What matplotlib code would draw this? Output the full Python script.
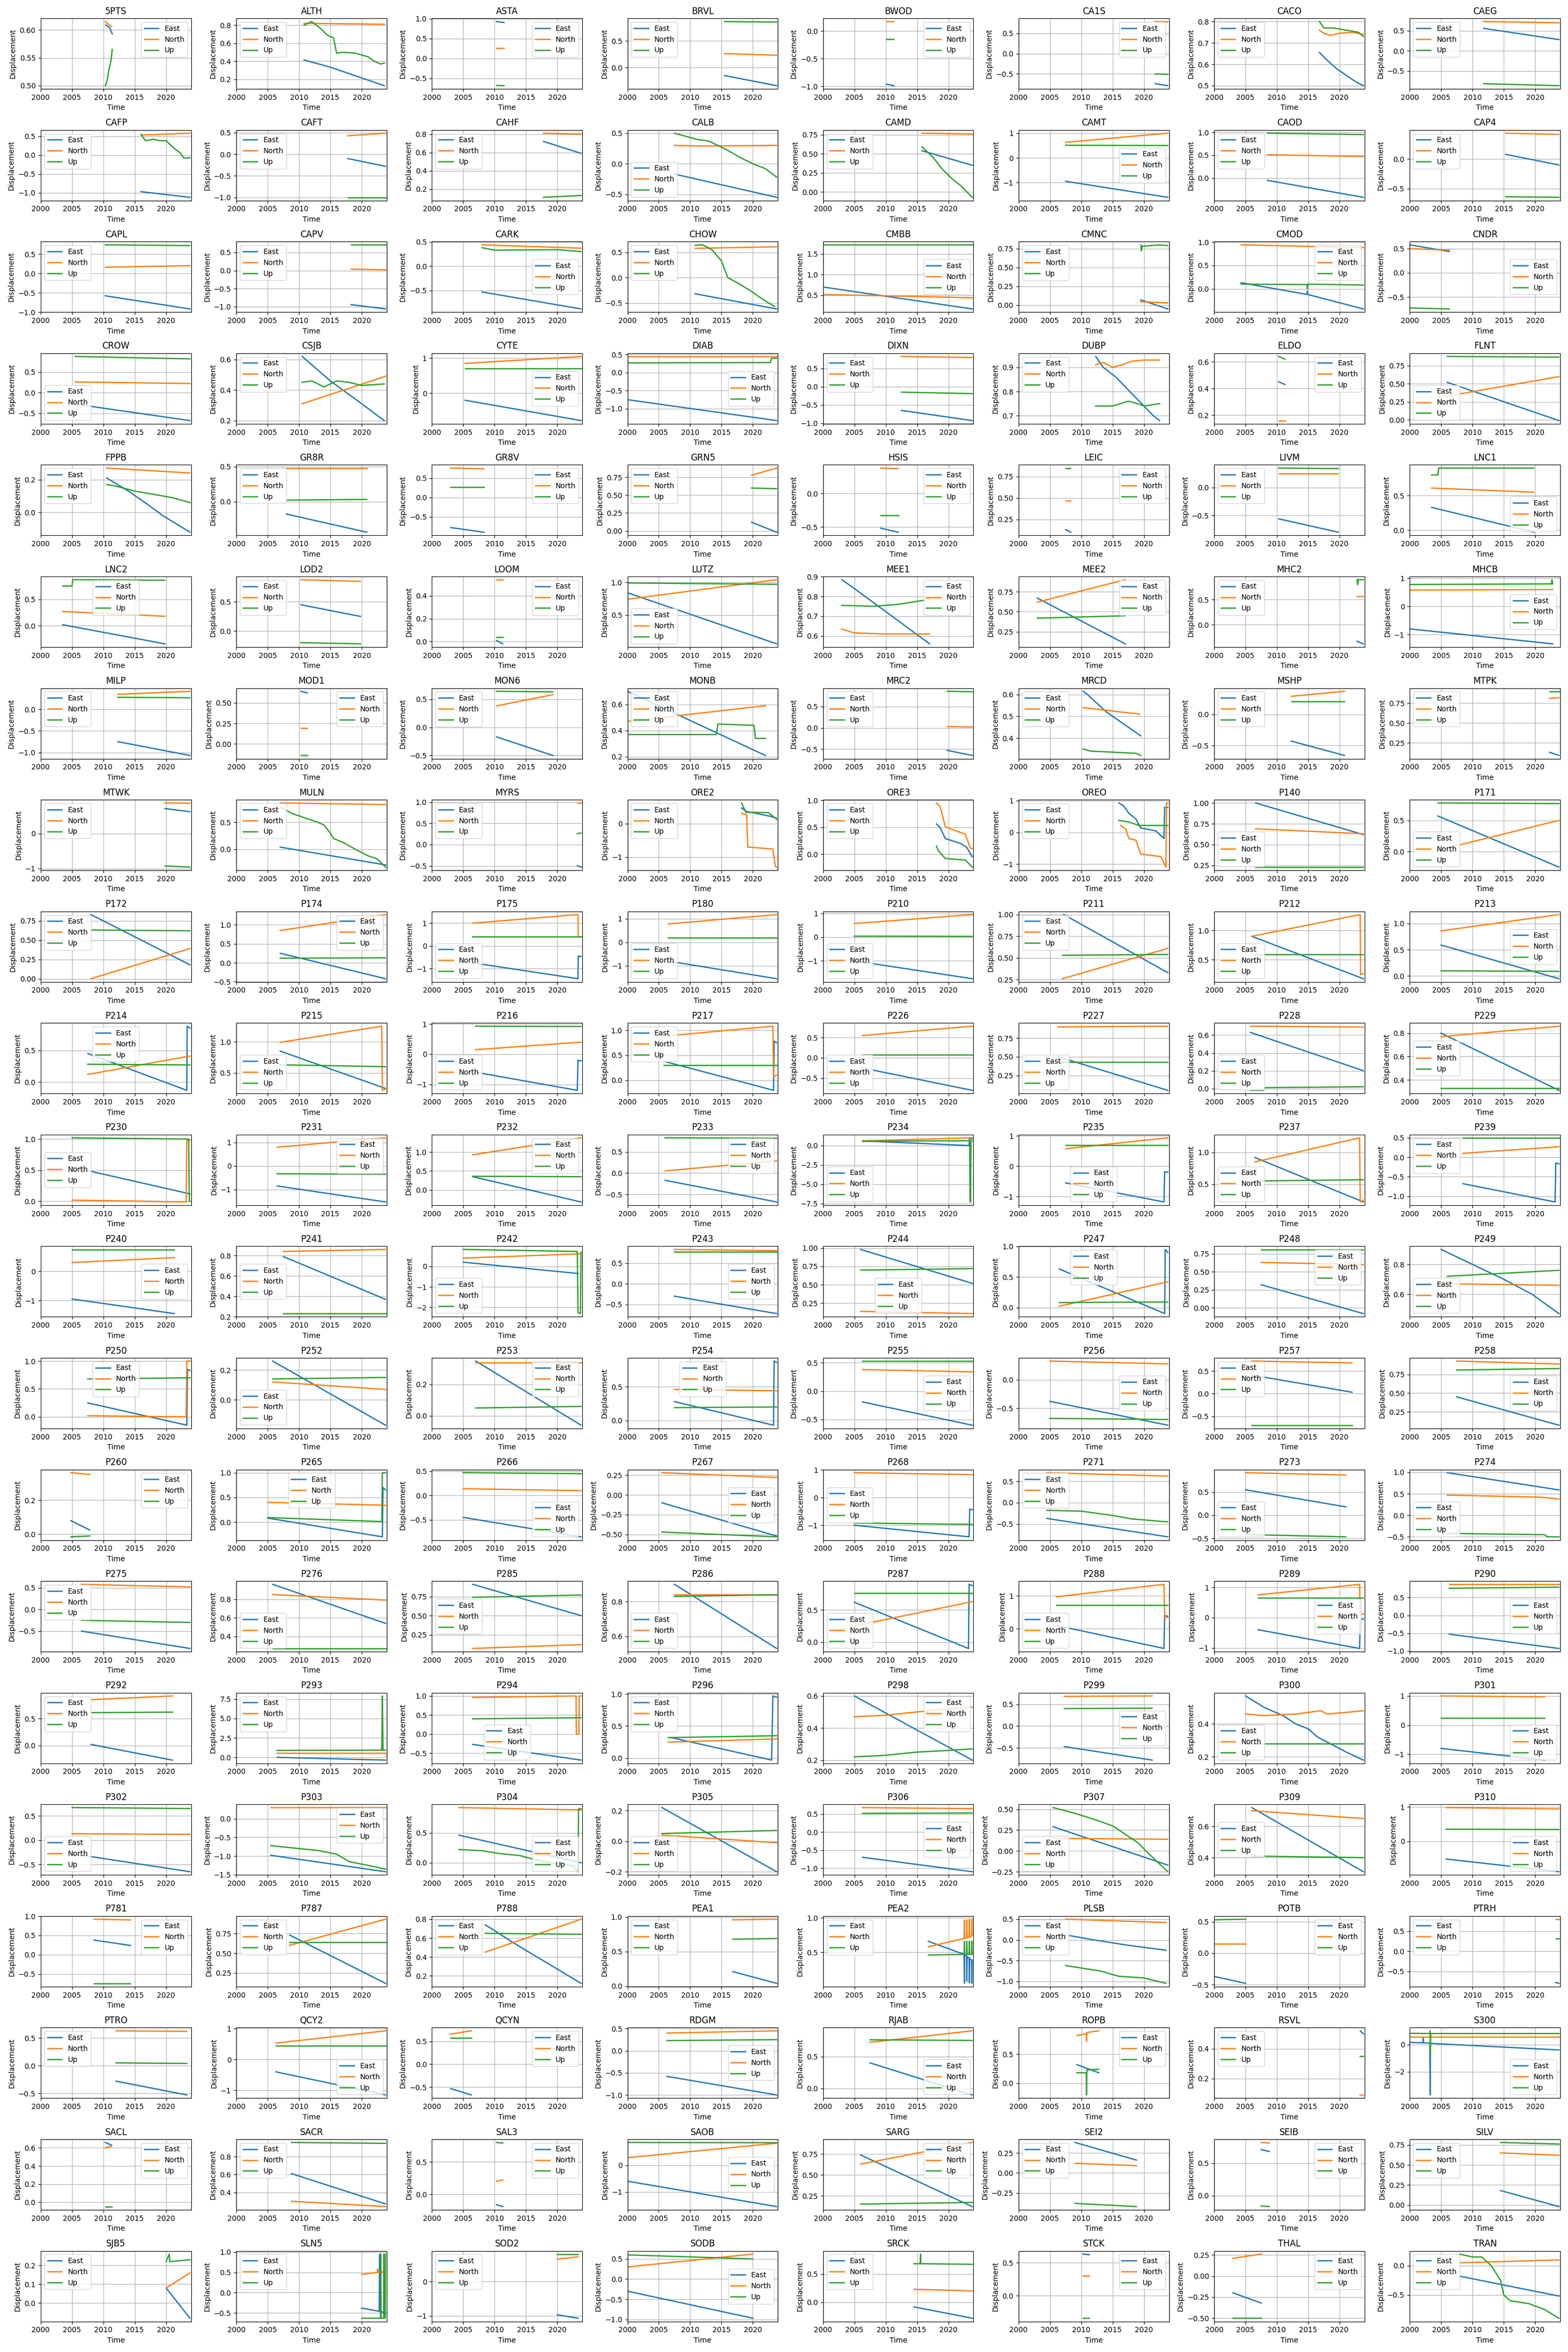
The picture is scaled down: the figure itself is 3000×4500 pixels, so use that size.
import numpy as np
import matplotlib.pyplot as plt

# station order, 21 rows x 8 columns
STATIONS = [
    '5PTS', 'ALTH', 'ASTA', 'BRVL', 'BWOD', 'CA1S', 'CACO', 'CAEG',
    'CAFP', 'CAFT', 'CAHF', 'CALB', 'CAMD', 'CAMT', 'CAOD', 'CAP4',
    'CAPL', 'CAPV', 'CARK', 'CHOW', 'CMBB', 'CMNC', 'CMOD', 'CNDR',
    'CROW', 'CSJB', 'CYTE', 'DIAB', 'DIXN', 'DUBP', 'ELDO', 'FLNT',
    'FPPB', 'GR8R', 'GR8V', 'GRN5', 'HSIS', 'LEIC', 'LIVM', 'LNC1',
    'LNC2', 'LOD2', 'LOOM', 'LUTZ', 'MEE1', 'MEE2', 'MHC2', 'MHCB',
    'MILP', 'MOD1', 'MON6', 'MONB', 'MRC2', 'MRCD', 'MSHP', 'MTPK',
    'MTWK', 'MULN', 'MYRS', 'ORE2', 'ORE3', 'OREO', 'P140', 'P171',
    'P172', 'P174', 'P175', 'P180', 'P210', 'P211', 'P212', 'P213',
    'P214', 'P215', 'P216', 'P217', 'P226', 'P227', 'P228', 'P229',
    'P230', 'P231', 'P232', 'P233', 'P234', 'P235', 'P237', 'P239',
    'P240', 'P241', 'P242', 'P243', 'P244', 'P247', 'P248', 'P249',
    'P250', 'P252', 'P253', 'P254', 'P255', 'P256', 'P257', 'P258',
    'P260', 'P265', 'P266', 'P267', 'P268', 'P271', 'P273', 'P274',
    'P275', 'P276', 'P285', 'P286', 'P287', 'P288', 'P289', 'P290',
    'P292', 'P293', 'P294', 'P296', 'P298', 'P299', 'P300', 'P301',
    'P302', 'P303', 'P304', 'P305', 'P306', 'P307', 'P309', 'P310',
    'P781', 'P787', 'P788', 'PEA1', 'PEA2', 'PLSB', 'POTB', 'PTRH',
    'PTRO', 'QCY2', 'QCYN', 'RDGM', 'RJAB', 'ROPB', 'RSVL', 'S300',
    'SACL', 'SACR', 'SAL3', 'SAOB', 'SARG', 'SEI2', 'SEIB', 'SILV',
    'SJB5', 'SLN5', 'SOD2', 'SODB', 'SRCK', 'STCK', 'THAL', 'TRAN',
]

# each series: flat list  year, value, year, value, ...
EAST = {
    '5PTS': [2010.4, 0.609, 2011.0, 0.604, 2011.4, 0.593],
    'ALTH': [2010.8, 0.415, 2015.0, 0.335, 2023.6, 0.13],
    'ASTA': [2010.3, 0.93, 2011.5, 0.905],
    'BRVL': [2015.5, -0.15, 2023.8, -0.34],
    'BWOD': [2010.1, -0.96, 2011.3, -0.99],
    'CA1S': [2021.8, -0.74, 2023.8, -0.79],
    'CACO': [2016.8, 0.655, 2018.0, 0.62, 2019.5, 0.58, 2021.0, 0.55, 2022.5, 0.52, 2023.8, 0.50],
    'CAEG': [2011.8, 0.56, 2023.8, 0.28],
    'CAFP': [2016.0, -0.97, 2023.8, -1.12],
    'CAFT': [2017.8, -0.10, 2023.8, -0.28],
    'CAHF': [2017.8, 0.72, 2023.8, 0.59],
    'CALB': [2007.5, -0.17, 2023.8, -0.55],
    'CAMD': [2015.8, 0.54, 2023.8, 0.35],
    'CAMT': [2007.5, -0.95, 2023.8, -1.60],
    'CAOD': [2008.5, -0.05, 2023.8, -0.42],
    'CAP4': [2015.3, 0.08, 2023.8, -0.10],
    'CAPL': [2010.3, -0.58, 2023.8, -0.92],
    'CAPV': [2018.3, -0.94, 2023.8, -1.06],
    'CARK': [2008.0, -0.53, 2023.8, -0.88],
    'CHOW': [2010.8, -0.32, 2023.8, -0.62],
    'CMBB': [2000.0, 0.70, 2023.8, 0.17],
    'CMNC': [2019.5, 0.07, 2023.8, -0.05],
    'CMOD': [2004.3, 0.13, 2014.8, -0.12, 2014.85, -0.05, 2014.9, -0.12, 2023.8, -0.43],
    'CNDR': [2000.0, 0.58, 2006.3, 0.44],
    'CROW': [2005.5, -0.28, 2023.8, -0.68],
    'CSJB': [2010.5, 0.62, 2015.0, 0.46, 2020.0, 0.31, 2023.6, 0.20],
    'CYTE': [2005.3, -0.20, 2023.8, -0.78],
    'DIAB': [2000.0, -0.75, 2023.8, -1.33],
    'DIXN': [2012.5, -0.65, 2023.8, -0.93],
    'DUBP': [2012.3, 0.945, 2013.5, 0.90, 2015.5, 0.86, 2017.0, 0.82, 2018.5, 0.78, 2020.0, 0.74, 2021.5, 0.70, 2022.5, 0.68],
    'ELDO': [2010.3, 0.45, 2011.3, 0.43],
    'FLNT': [2006.0, 0.52, 2023.8, -0.01],
    'FPPB': [2010.5, 0.21, 2014.0, 0.13, 2017.0, 0.05, 2019.5, -0.02, 2023.8, -0.12],
    'GR8R': [2008.0, -0.18, 2020.8, -0.44],
    'GR8V': [2003.0, -0.78, 2008.3, -0.90],
    'GRN5': [2019.8, 0.12, 2023.8, -0.02],
    'HSIS': [2009.2, -0.52, 2012.0, -0.58],
    'LEIC': [2007.5, 0.13, 2008.3, 0.10],
    'LIVM': [2010.3, -0.56, 2019.8, -0.80],
    'LNC1': [2003.5, 0.33, 2019.8, -0.03],
    'LNC2': [2003.5, 0.02, 2019.8, -0.34],
    'LOD2': [2010.3, 0.45, 2019.8, 0.25],
    'LOOM': [2010.3, 0.01, 2011.3, -0.02],
    'LUTZ': [2000.0, 0.84, 2023.8, 0.06],
    'MEE1': [2003.0, 0.885, 2005.0, 0.84, 2008.0, 0.77, 2011.0, 0.70, 2014.0, 0.63, 2017.0, 0.56],
    'MEE2': [2003.0, 0.67, 2017.0, 0.10],
    'MHC2': [2022.8, -0.33, 2023.8, -0.38],
    'MHCB': [2000.0, -0.80, 2022.8, -1.33],
    'MILP': [2012.3, -0.75, 2023.8, -1.07],
    'MOD1': [2010.3, 0.64, 2011.3, 0.62],
    'MON6': [2010.3, -0.17, 2019.3, -0.50],
    'MONB': [2000.0, 0.70, 2022.0, 0.21],
    'MRC2': [2019.8, -0.53, 2023.8, -0.65],
    'MRCD': [2010.3, 0.615, 2011.0, 0.60, 2014.0, 0.52, 2017.0, 0.46, 2018.5, 0.43, 2019.5, 0.41],
    'MSHP': [2012.3, -0.43, 2020.8, -0.66],
    'MTPK': [2022.3, 0.13, 2023.8, 0.09],
    'MTWK': [2019.8, 0.71, 2023.8, 0.62],
    'MULN': [2007.0, 0.04, 2023.8, -0.29],
    'MYRS': [2023.2, -0.50, 2023.8, -0.53],
    'ORE2': [2018.2, 0.47, 2018.9, 0.37, 2022.8, 0.22, 2023.8, 0.16],
    'ORE3': [2018.1, 0.56, 2018.7, 0.49, 2019.5, 0.29, 2021.9, 0.20, 2022.9, 0.13, 2023.8, -0.05],
    'OREO': [2016.0, 0.93, 2016.8, 0.83, 2017.6, 0.60, 2018.7, 0.43, 2019.5, 0.14, 2021.9, 0.05, 2023.2, -0.19, 2023.3, 0.79, 2023.8, 0.79],
    'P140': [2006.6, 1.00, 2023.8, 0.62],
    'P171': [2004.5, 0.57, 2023.8, -0.25],
    'P172': [2008.0, 0.83, 2023.8, 0.18],
    'P174': [2007.0, 0.25, 2023.8, -0.42],
    'P175': [2006.5, -0.75, 2023.3, -1.45, 2023.35, -0.45, 2023.8, -0.47],
    'P180': [2006.5, -0.80, 2023.8, -1.55],
    'P210': [2005.0, -1.00, 2023.8, -1.75],
    'P211': [2007.2, 1.00, 2023.8, 0.33],
    'P212': [2006.0, 0.90, 2023.8, 0.18],
    'P213': [2005.0, 0.59, 2023.8, -0.05],
    'P214': [2007.5, 0.45, 2023.3, -0.13, 2023.35, 0.88, 2023.8, 0.85],
    'P215': [2007.0, 0.85, 2023.8, 0.25],
    'P216': [2007.0, -0.60, 2023.2, -1.20, 2023.3, -0.20, 2023.8, -0.22],
    'P217': [2005.8, 0.38, 2023.3, -0.20, 2023.4, 0.78, 2023.8, 0.75],
    'P226': [2006.3, -0.25, 2023.8, -0.80],
    'P227': [2006.3, 0.50, 2023.8, 0.05],
    'P228': [2005.8, 0.63, 2023.8, 0.20],
    'P229': [2005.0, 0.80, 2023.8, 0.31],
    'P230': [2005.0, 0.55, 2023.8, 0.12],
    'P231': [2006.5, -0.85, 2023.8, -1.53],
    'P232': [2006.5, 0.35, 2023.8, -0.32],
    'P233': [2006.0, -0.17, 2023.8, -0.68],
    'P234': [2006.3, 0.60, 2023.3, 0.0, 2023.35, 0.85, 2023.8, 0.85],
    'P235': [2007.5, -0.55, 2023.2, -1.18, 2023.3, -0.18, 2023.8, -0.20],
    'P237': [2006.5, 0.92, 2023.8, 0.22],
    'P239': [2008.5, -0.68, 2023.2, -1.15, 2023.3, -0.15, 2023.8, -0.17],
    'P240': [2005.0, -0.95, 2021.3, -1.45],
    'P241': [2007.5, 0.79, 2023.8, 0.37],
    'P242': [2005.0, 0.20, 2023.3, -0.35],
    'P243': [2007.5, -0.30, 2023.8, -0.72],
    'P244': [2006.0, 0.98, 2023.8, 0.52],
    'P247': [2006.5, 0.63, 2023.3, -0.10, 2023.4, 0.95, 2023.8, 0.90],
    'P248': [2007.5, 0.32, 2023.8, -0.08],
    'P249': [2005.0, 0.90, 2010.0, 0.80, 2015.0, 0.70, 2019.5, 0.60, 2023.8, 0.47],
    'P250': [2007.5, 0.25, 2023.3, -0.15, 2023.4, 0.85, 2023.8, 0.83],
    'P252': [2005.8, 0.26, 2023.8, -0.17],
    'P253': [2007.0, 0.35, 2023.8, -0.06],
    'P254': [2007.5, 0.28, 2023.3, -0.07, 2023.4, 0.88, 2023.8, 0.86],
    'P255': [2006.3, -0.19, 2023.8, -0.60],
    'P256': [2005.0, -0.38, 2023.8, -0.80],
    'P257': [2006.0, 0.41, 2022.0, 0.03],
    'P258': [2007.5, 0.45, 2023.8, 0.07],
    'P260': [2004.8, 0.08, 2007.8, 0.025],
    'P265': [2005.0, 0.08, 2023.3, -0.30, 2023.4, 0.70, 2023.8, 0.65],
    'P266': [2005.0, -0.45, 2023.8, -0.85],
    'P267': [2005.5, -0.10, 2023.8, -0.52],
    'P268': [2005.0, -1.00, 2023.3, -1.42, 2023.4, -0.42, 2023.8, -0.44],
    'P271': [2004.5, -0.37, 2023.8, -0.80],
    'P273': [2005.0, 0.55, 2021.0, 0.18],
    'P274': [2006.0, 0.99, 2023.8, 0.59],
    'P275': [2006.5, -0.50, 2023.8, -0.90],
    'P276': [2005.8, 0.96, 2023.8, 0.54],
    'P285': [2006.5, 0.91, 2023.8, 0.50],
    'P286': [2007.5, 0.90, 2023.8, 0.53],
    'P287': [2005.0, 0.62, 2023.2, -0.10, 2023.3, 0.90, 2023.8, 0.88],
    'P288': [2006.0, 0.10, 2023.2, -0.60, 2023.3, 0.40, 2023.8, 0.38],
    'P289': [2007.0, -0.40, 2023.2, -1.02, 2023.3, -0.05, 2023.8, -0.05],
    'P290': [2006.3, -0.53, 2023.8, -0.93],
    'P292': [2008.0, 0.02, 2021.0, -0.27],
    'P293': [2006.5, 0.00, 2023.8, -0.35],
    'P294': [2006.5, -0.27, 2023.8, -0.68],
    'P296': [2007.0, 0.32, 2023.0, -0.03, 2023.2, 0.97, 2023.8, 0.95],
    'P298': [2005.0, 0.60, 2023.8, 0.20],
    'P299': [2007.3, -0.47, 2021.3, -0.78],
    'P300': [2005.0, 0.57, 2008.0, 0.50, 2011.0, 0.45, 2013.0, 0.40, 2015.0, 0.37, 2016.5, 0.32, 2019.0, 0.27, 2021.0, 0.23, 2023.8, 0.18],
    'P301': [2005.0, -0.80, 2021.5, -1.20],
    'P302': [2005.0, -0.28, 2023.8, -0.65],
    'P303': [2005.5, -0.98, 2023.8, -1.42],
    'P304': [2004.3, 0.46, 2023.8, 0.00],
    'P305': [2005.5, 0.22, 2023.8, -0.20],
    'P306': [2006.3, -0.70, 2023.8, -1.10],
    'P307': [2005.5, 0.29, 2023.8, -0.17],
    'P309': [2006.0, 0.72, 2023.8, 0.31],
    'P310': [2005.8, -0.52, 2023.8, -0.89],
    'P781': [2008.5, 0.38, 2014.3, 0.24],
    'P787': [2008.5, 0.73, 2023.8, 0.12],
    'P788': [2008.5, 0.74, 2009.5, 0.70, 2013.0, 0.55, 2023.8, 0.12],
    'PEA1': [2016.8, 0.21, 2023.8, 0.04],
    'PEA2': [2016.8, 0.66, 2022.5, 0.47, 2022.55, 0.05, 2022.6, 0.46, 2022.9, 0.45, 2022.95, 0.08,
             2023.0, 0.44, 2023.3, 0.42, 2023.35, 0.06, 2023.4, 0.41, 2023.7, 0.39, 2023.75, 0.05, 2023.8, 0.38],
    'PLSB': [2007.5, 0.12, 2012.0, 0.00, 2017.0, -0.12, 2023.5, -0.25],
    'POTB': [2000.0, -0.37, 2005.0, -0.48],
    'PTRH': [2023.3, -0.78, 2023.8, -0.80],
    'PTRO': [2012.0, -0.28, 2023.3, -0.53],
    'QCY2': [2006.3, -0.40, 2023.8, -1.15],
    'QCYN': [2003.0, -0.53, 2006.3, -0.67],
    'RDGM': [2006.3, -0.58, 2023.8, -1.00],
    'RJAB': [2007.5, 0.40, 2023.8, -0.10],
    'ROPB': [2009.3, 0.32, 2012.8, 0.18],
    'RSVL': [2023.3, 0.52, 2023.8, 0.50],
    'S300': [2000.0, 0.15, 2002.1, 0.12, 2002.15, 0.50, 2002.2, 0.12, 2003.2, 0.10, 2003.25, -3.70, 2003.3, 0.08, 2023.8, -0.40],
    'SACL': [2010.3, 0.66, 2011.3, 0.63],
    'SACR': [2008.8, 0.61, 2023.8, 0.27],
    'SAL3': [2010.3, -0.16, 2011.3, -0.19],
    'SAOB': [2000.0, -0.60, 2023.8, -1.55],
    'SARG': [2006.0, 0.74, 2023.8, 0.12],
    'SEI2': [2009.0, 0.38, 2018.8, 0.16],
    'SEIB': [2007.5, 0.71, 2008.8, 0.68],
    'SILV': [2014.5, 0.18, 2023.8, -0.02],
    'SJB5': [2020.0, 0.08, 2023.8, -0.08],
    'SLN5': [2020.0, -0.38, 2022.8, -0.46, 2022.85, 0.95, 2022.9, -0.46, 2023.8, -0.50],
    'SOD2': [2020.0, -0.97, 2023.3, -1.07],
    'SODB': [2000.0, -0.30, 2020.0, -0.97],
    'SRCK': [2014.5, -0.08, 2023.8, -0.28],
    'STCK': [2010.3, 0.63, 2011.3, 0.62],
    'THAL': [2003.0, -0.20, 2007.5, -0.32],
    'TRAN': [2008.0, -0.18, 2023.8, -0.52],
}

NORTH = {
    '5PTS': [2010.3, 0.615, 2010.8, 0.610, 2011.3, 0.606],
    'ALTH': [2010.8, 0.82, 2023.6, 0.81],
    'ASTA': [2010.3, 0.26, 2011.5, 0.26],
    'BRVL': [2015.5, 0.26, 2023.8, 0.23],
    'BWOD': [2010.1, 0.17, 2011.3, 0.17],
    'CA1S': [2021.8, 0.79, 2023.8, 0.78],
    'CACO': [2016.8, 0.76, 2017.5, 0.745, 2018.5, 0.735, 2020.0, 0.745, 2022.0, 0.75, 2023.8, 0.74],
    'CAEG': [2011.8, 0.73, 2023.8, 0.70],
    'CAFP': [2016.0, 0.53, 2023.8, 0.58],
    'CAFT': [2017.8, 0.43, 2023.8, 0.49],
    'CAHF': [2017.8, 0.81, 2023.8, 0.80],
    'CALB': [2007.5, 0.30, 2012.0, 0.29, 2023.8, 0.30],
    'CAMD': [2015.8, 0.77, 2023.8, 0.76],
    'CAMT': [2007.5, 0.63, 2023.8, 1.00],
    'CAOD': [2008.5, 0.51, 2023.8, 0.47],
    'CAP4': [2015.3, 0.44, 2023.8, 0.42],
    'CAPL': [2010.3, 0.16, 2023.8, 0.20],
    'CAPV': [2018.3, 0.04, 2023.8, 0.02],
    'CARK': [2008.0, 0.44, 2023.8, 0.37],
    'CHOW': [2010.8, 0.58, 2023.8, 0.61],
    'CMBB': [2000.0, 0.52, 2023.8, 0.44],
    'CMNC': [2019.5, 0.045, 2023.8, 0.03],
    'CMOD': [2004.3, 0.94, 2023.8, 0.88],
    'CNDR': [2000.0, 0.50, 2006.3, 0.47],
    'CROW': [2005.5, 0.26, 2023.8, 0.22],
    'CSJB': [2010.5, 0.31, 2023.8, 0.49],
    'CYTE': [2005.3, 0.85, 2023.8, 1.05],
    'DIAB': [2000.0, 0.45, 2023.8, 0.45],
    'DIXN': [2012.5, 0.83, 2023.8, 0.80],
    'DUBP': [2012.3, 0.91, 2013.5, 0.92, 2015.0, 0.90, 2016.5, 0.91, 2018.0, 0.925, 2020.0, 0.93, 2022.5, 0.93],
    'ELDO': [2010.3, 0.16, 2011.3, 0.16],
    'FLNT': [2006.0, 0.33, 2023.8, 0.60],
    'FPPB': [2010.5, 0.27, 2023.8, 0.24],
    'GR8R': [2008.0, 0.48, 2020.8, 0.48],
    'GR8V': [2003.0, 0.76, 2008.3, 0.74],
    'GRN5': [2019.8, 0.78, 2023.8, 0.88],
    'HSIS': [2009.2, 0.38, 2012.0, 0.37],
    'LEIC': [2007.5, 0.47, 2008.3, 0.47],
    'LIVM': [2010.3, 0.25, 2019.8, 0.25],
    'LNC1': [2003.5, 0.61, 2019.8, 0.55],
    'LNC2': [2003.5, 0.27, 2019.8, 0.18],
    'LOD2': [2010.3, 0.88, 2019.8, 0.85],
    'LOOM': [2010.3, 0.54, 2011.3, 0.54],
    'LUTZ': [2000.0, 0.74, 2023.8, 1.04],
    'MEE1': [2003.0, 0.635, 2005.0, 0.615, 2010.0, 0.61, 2017.0, 0.61],
    'MEE2': [2003.0, 0.62, 2017.0, 0.90],
    'MHC2': [2022.8, 0.57, 2023.8, 0.57],
    'MHCB': [2000.0, 0.58, 2022.8, 0.60],
    'MILP': [2012.3, 0.35, 2023.8, 0.42],
    'MOD1': [2010.3, 0.19, 2011.3, 0.19],
    'MON6': [2010.3, 0.38, 2019.3, 0.58],
    'MONB': [2000.0, 0.47, 2022.0, 0.59],
    'MRC2': [2019.8, 0.03, 2023.8, 0.02],
    'MRCD': [2010.3, 0.54, 2019.3, 0.51],
    'MSHP': [2012.3, 0.29, 2020.8, 0.37],
    'MTPK': [2022.3, 0.81, 2023.8, 0.82],
    'MTWK': [2019.8, 0.87, 2023.8, 0.86],
    'MULN': [2007.0, 0.86, 2023.8, 0.83],
    'MYRS': [2023.2, 0.98, 2023.8, 0.98],
    'ORE2': [2018.2, 0.31, 2019.0, 0.28, 2019.2, -0.70, 2023.2, -0.76, 2023.6, -1.28, 2023.8, -1.30],
    'ORE3': [2018.1, 0.95, 2018.7, 0.88, 2019.5, 0.51, 2021.0, 0.44, 2022.7, 0.37, 2023.5, 0.11, 2023.8, 0.10],
    'OREO': [2016.3, 0.22, 2017.1, 0.11, 2017.6, -0.19, 2018.7, -0.24, 2019.5, -0.68, 2022.7, -0.76, 2023.5, -1.09, 2023.6, 0.93, 2023.8, 0.93],
    'P140': [2006.6, 0.69, 2023.8, 0.63],
    'P171': [2004.5, 0.02, 2023.8, 0.50],
    'P172': [2008.0, 0.00, 2023.8, 0.39],
    'P174': [2007.0, 0.85, 2023.8, 1.27],
    'P175': [2006.5, 1.00, 2023.3, 1.38, 2023.35, 0.40, 2023.8, 0.40],
    'P180': [2006.5, 0.78, 2023.8, 1.18],
    'P210': [2005.0, 0.57, 2023.8, 0.95],
    'P211': [2007.0, 0.26, 2023.8, 0.61],
    'P212': [2006.0, 0.90, 2023.3, 1.27, 2023.35, 0.25, 2023.8, 0.27],
    'P213': [2005.0, 0.86, 2023.8, 1.17],
    'P214': [2007.5, 0.12, 2023.8, 0.41],
    'P215': [2007.0, 0.99, 2023.2, 1.25, 2023.3, 0.22, 2023.8, 0.24],
    'P216': [2007.0, 0.15, 2023.8, 0.40],
    'P217': [2005.8, 0.88, 2023.2, 1.08, 2023.3, 0.08, 2023.8, 0.10],
    'P226': [2006.3, 0.55, 2023.8, 0.78],
    'P227': [2006.3, 0.90, 2023.8, 0.91],
    'P228': [2005.8, 0.70, 2023.8, 0.69],
    'P229': [2005.0, 0.77, 2023.8, 0.86],
    'P230': [2005.0, 0.02, 2023.2, -0.01, 2023.3, 0.98, 2023.8, 0.98],
    'P231': [2006.5, 0.80, 2023.8, 1.20],
    'P232': [2006.5, 0.93, 2023.8, 1.38],
    'P233': [2006.0, 0.05, 2023.8, 0.29],
    'P234': [2006.3, 0.60, 2023.8, 1.00],
    'P235': [2007.5, 0.58, 2023.8, 0.94],
    'P237': [2006.5, 0.85, 2023.2, 1.23, 2023.3, 0.22, 2023.8, 0.25],
    'P239': [2008.5, 0.10, 2023.8, 0.27],
    'P240': [2005.0, 0.30, 2021.3, 0.47],
    'P241': [2007.5, 0.84, 2023.8, 0.86],
    'P242': [2005.0, 0.40, 2023.3, 0.60, 2023.8, 0.62],
    'P243': [2007.5, 0.83, 2023.8, 0.80],
    'P244': [2006.0, 0.14, 2023.8, 0.11],
    'P247': [2006.5, 0.02, 2023.8, 0.42],
    'P248': [2007.5, 0.63, 2023.8, 0.60],
    'P249': [2005.0, 0.67, 2023.8, 0.66],
    'P250': [2007.5, 0.02, 2023.2, 0.00, 2023.3, 1.00, 2023.8, 1.00],
    'P252': [2005.8, 0.12, 2023.8, 0.07],
    'P253': [2007.0, 0.34, 2023.8, 0.34],
    'P254': [2007.5, 0.46, 2023.8, 0.44],
    'P255': [2006.3, 0.38, 2023.8, 0.34],
    'P256': [2005.0, 0.33, 2023.8, 0.28],
    'P257': [2006.0, 0.72, 2022.0, 0.68],
    'P258': [2007.5, 0.93, 2023.8, 0.89],
    'P260': [2004.8, 0.36, 2007.8, 0.35],
    'P265': [2005.0, 0.40, 2023.8, 0.34],
    'P266': [2005.0, 0.14, 2023.8, 0.10],
    'P267': [2005.5, 0.28, 2023.8, 0.22],
    'P268': [2005.0, 0.90, 2023.8, 0.83],
    'P271': [2004.5, 0.70, 2023.8, 0.62],
    'P273': [2005.0, 0.92, 2021.0, 0.87],
    'P274': [2006.0, 0.47, 2015.0, 0.44, 2021.0, 0.42, 2023.8, 0.38],
    'P275': [2006.5, 0.58, 2023.8, 0.52],
    'P276': [2005.8, 0.85, 2023.8, 0.79],
    'P285': [2006.5, 0.07, 2023.8, 0.12],
    'P286': [2007.5, 0.84, 2023.8, 0.84],
    'P287': [2005.0, 0.25, 2023.8, 0.63],
    'P288': [2006.0, 0.97, 2023.2, 1.35, 2023.3, 0.35, 2023.8, 0.35],
    'P289': [2007.0, 0.75, 2023.2, 1.10, 2023.3, 0.12, 2023.8, 0.12],
    'P290': [2006.3, 0.87, 2023.8, 0.87],
    'P292': [2008.0, 0.85, 2021.0, 0.92],
    'P293': [2006.5, 0.55, 2023.8, 0.55],
    'P294': [2006.5, 0.96, 2023.0, 1.00, 2023.05, 0.00, 2023.45, 0.00, 2023.5, 1.00, 2023.8, 1.00],
    'P296': [2006.5, 0.25, 2023.8, 0.30],
    'P298': [2005.0, 0.47, 2010.0, 0.48, 2015.0, 0.50, 2020.0, 0.52, 2023.8, 0.53],
    'P299': [2007.3, 0.68, 2021.3, 0.69],
    'P300': [2005.0, 0.46, 2008.0, 0.45, 2013.0, 0.46, 2015.0, 0.47, 2017.0, 0.48, 2018.0, 0.46, 2021.0, 0.47, 2023.8, 0.48],
    'P301': [2005.0, 1.00, 2021.5, 0.97],
    'P302': [2005.0, 0.13, 2023.8, 0.12],
    'P303': [2005.5, 0.30, 2023.8, 0.30],
    'P304': [2004.3, 0.92, 2023.8, 0.88],
    'P305': [2005.5, 0.04, 2023.8, -0.01],
    'P306': [2006.3, 0.68, 2023.8, 0.65],
    'P307': [2005.5, 0.15, 2023.8, 0.14],
    'P309': [2006.0, 0.70, 2023.8, 0.65],
    'P310': [2005.8, 0.98, 2023.8, 0.94],
    'P781': [2008.5, 0.92, 2014.3, 0.90],
    'P787': [2008.5, 0.60, 2023.8, 0.93],
    'P788': [2008.5, 0.45, 2023.8, 0.80],
    'PEA1': [2016.8, 0.96, 2023.8, 0.97],
    'PEA2': [2016.8, 0.58, 2022.5, 0.70, 2022.55, 0.97, 2022.6, 0.70, 2022.9, 0.71, 2022.95, 0.97,
             2023.0, 0.71, 2023.3, 0.72, 2023.35, 0.98, 2023.4, 0.72, 2023.7, 0.74, 2023.75, 0.98, 2023.8, 0.74],
    'PLSB': [2007.5, 0.50, 2023.5, 0.42],
    'POTB': [2000.0, 0.15, 2005.0, 0.15],
    'PTRH': [2023.3, 0.80, 2023.8, 0.80],
    'PTRO': [2012.0, 0.63, 2023.3, 0.62],
    'QCY2': [2006.3, 0.53, 2023.8, 0.93],
    'QCYN': [2003.0, 0.66, 2006.3, 0.73],
    'RDGM': [2006.3, 0.40, 2023.8, 0.45],
    'RJAB': [2007.5, 0.72, 2023.8, 0.90],
    'ROPB': [2009.3, 0.82, 2010.8, 0.85, 2010.85, 0.72, 2010.9, 0.87, 2012.8, 0.90],
    'RSVL': [2023.3, 0.09, 2023.8, 0.09],
    'S300': [2000.0, 0.55, 2023.8, 0.55],
    'SACL': [2010.3, 0.60, 2011.3, 0.62],
    'SACR': [2008.8, 0.30, 2023.8, 0.24],
    'SAL3': [2010.3, 0.20, 2011.3, 0.22],
    'SAOB': [2000.0, 0.28, 2023.8, 0.82],
    'SARG': [2006.0, 0.63, 2023.8, 0.89],
    'SEI2': [2009.0, 0.12, 2018.8, 0.09],
    'SEIB': [2007.5, 0.82, 2008.8, 0.81],
    'SILV': [2014.5, 0.65, 2023.8, 0.62],
    'SJB5': [2020.0, 0.08, 2023.8, 0.16],
    'SLN5': [2020.0, 0.45, 2022.5, 0.50, 2022.55, 0.58, 2022.6, 0.50, 2023.8, 0.52],
    'SOD2': [2020.0, 0.65, 2023.3, 0.72],
    'SODB': [2000.0, 0.30, 2020.0, 0.62],
    'SRCK': [2014.5, 0.23, 2023.8, 0.20],
    'STCK': [2010.3, 0.30, 2011.3, 0.30],
    'THAL': [2003.0, 0.21, 2007.5, 0.26],
    'TRAN': [2008.0, 0.05, 2023.8, 0.10],
}

UP = {
    '5PTS': [2010.3, 0.50, 2010.6, 0.51, 2010.9, 0.53, 2011.2, 0.545, 2011.4, 0.565],
    'ALTH': [2010.8, 0.80, 2012.0, 0.84, 2013.5, 0.76, 2014.5, 0.69, 2015.5, 0.66, 2016.0, 0.49,
             2017.0, 0.50, 2019.0, 0.49, 2021.0, 0.45, 2022.0, 0.40, 2023.0, 0.37, 2023.6, 0.38],
    'ASTA': [2010.3, -0.68, 2011.5, -0.685],
    'BRVL': [2015.5, 0.86, 2023.8, 0.85],
    'BWOD': [2010.1, -0.15, 2011.3, -0.15],
    'CA1S': [2021.8, -0.50, 2023.8, -0.51],
    'CACO': [2016.8, 0.80, 2017.5, 0.77, 2019.0, 0.77, 2021.0, 0.76, 2023.0, 0.75, 2023.8, 0.73],
    'CAEG': [2011.8, -0.82, 2023.8, -0.87],
    'CAFP': [2016.0, 0.55, 2016.7, 0.38, 2018.0, 0.42, 2019.0, 0.38, 2020.0, 0.38, 2020.8, 0.25,
             2021.5, 0.15, 2022.3, 0.05, 2022.8, -0.08, 2023.8, -0.07],
    'CAFT': [2017.8, -1.00, 2023.8, -1.00],
    'CAHF': [2017.8, 0.11, 2023.8, 0.13],
    'CALB': [2007.5, 0.50, 2011.0, 0.40, 2013.0, 0.37, 2016.0, 0.22, 2018.0, 0.10, 2020.0, 0.00, 2022.0, -0.08, 2023.8, -0.22],
    'CAMD': [2015.8, 0.59, 2017.5, 0.46, 2019.0, 0.30, 2020.5, 0.18, 2022.0, 0.08, 2023.8, -0.07],
    'CAMT': [2007.5, 0.51, 2023.8, 0.50],
    'CAOD': [2008.5, 0.98, 2023.8, 0.95],
    'CAP4': [2015.3, -0.64, 2023.8, -0.65],
    'CAPL': [2010.3, 0.74, 2023.8, 0.72],
    'CAPV': [2018.3, 0.71, 2023.8, 0.71],
    'CARK': [2008.0, 0.38, 2010.0, 0.33, 2020.0, 0.34, 2023.8, 0.30],
    'CHOW': [2010.8, 0.64, 2012.0, 0.65, 2013.5, 0.55, 2015.0, 0.33, 2016.0, 0.00, 2017.5, -0.10,
             2019.5, -0.25, 2021.0, -0.38, 2022.5, -0.50, 2023.5, -0.57],
    'CMBB': [2000.0, 1.72, 2023.8, 1.72],
    'CMNC': [2019.5, 0.80, 2019.6, 0.72, 2019.7, 0.78, 2022.5, 0.80, 2023.8, 0.79],
    'CMOD': [2004.3, 0.10, 2014.8, 0.09, 2014.85, 0.0, 2014.9, 0.10, 2023.8, 0.08],
    'CNDR': [2000.0, -0.73, 2006.3, -0.75],
    'CROW': [2005.5, 0.88, 2023.8, 0.82],
    'CSJB': [2010.5, 0.45, 2012.0, 0.46, 2014.0, 0.42, 2016.0, 0.46, 2018.0, 0.45, 2020.0, 0.43, 2023.6, 0.44],
    'CYTE': [2005.3, 0.70, 2023.8, 0.70],
    'DIAB': [2000.0, 0.27, 2022.8, 0.28, 2023.0, 0.40, 2023.8, 0.40],
    'DIXN': [2012.5, -0.15, 2023.8, -0.19],
    'DUBP': [2012.3, 0.74, 2015.0, 0.74, 2017.5, 0.76, 2019.0, 0.75, 2020.0, 0.74, 2022.5, 0.75],
    'ELDO': [2010.3, 0.64, 2011.3, 0.62],
    'FLNT': [2006.0, 0.88, 2023.8, 0.87],
    'FPPB': [2010.5, 0.17, 2012.0, 0.16, 2015.0, 0.13, 2018.0, 0.11, 2021.0, 0.09, 2023.8, 0.06],
    'GR8R': [2008.0, 0.02, 2020.8, 0.03],
    'GR8V': [2003.0, 0.26, 2008.3, 0.26],
    'GRN5': [2019.8, 0.60, 2023.8, 0.59],
    'HSIS': [2009.2, -0.33, 2012.0, -0.33],
    'LEIC': [2007.5, 0.85, 2008.3, 0.85],
    'LIVM': [2010.3, 0.35, 2019.8, 0.34],
    'LNC1': [2003.5, 0.80, 2004.5, 0.80, 2004.6, 0.90, 2019.8, 0.90],
    'LNC2': [2003.5, 0.75, 2005.0, 0.75, 2005.1, 0.87, 2019.8, 0.86],
    'LOD2': [2010.3, -0.20, 2019.8, -0.22],
    'LOOM': [2010.3, 0.04, 2011.3, 0.04],
    'LUTZ': [2000.0, 0.99, 2023.8, 0.97],
    'MEE1': [2003.0, 0.755, 2008.0, 0.75, 2012.0, 0.76, 2016.0, 0.78, 2017.0, 0.785],
    'MEE2': [2003.0, 0.42, 2017.0, 0.45],
    'MHC2': [2022.8, 0.90, 2022.9, 0.80, 2023.0, 0.90, 2023.8, 0.90],
    'MHCB': [2000.0, 0.78, 2022.6, 0.80, 2022.7, 0.95, 2022.8, 0.80],
    'MILP': [2012.3, 0.28, 2023.8, 0.27],
    'MOD1': [2010.3, -0.14, 2011.3, -0.14],
    'MON6': [2010.3, 0.64, 2019.3, 0.63],
    'MONB': [2000.0, 0.37, 2014.2, 0.37, 2014.4, 0.45, 2020.2, 0.44, 2020.4, 0.34, 2022.0, 0.34],
    'MRC2': [2019.8, 0.86, 2023.8, 0.85],
    'MRCD': [2010.3, 0.35, 2011.5, 0.34, 2018.7, 0.33, 2019.5, 0.32],
    'MSHP': [2012.3, 0.21, 2020.8, 0.21],
    'MTPK': [2022.3, 0.90, 2023.8, 0.90],
    'MTWK': [2019.8, -0.93, 2023.8, -0.96],
    'MULN': [2007.0, 0.78, 2009.0, 0.66, 2011.0, 0.58, 2013.0, 0.50, 2014.0, 0.45, 2015.0, 0.30, 2015.5, 0.20,
             2017.0, 0.13, 2019.0, 0.00, 2021.0, -0.12, 2022.5, -0.18, 2023.8, -0.33],
    'MYRS': [2023.2, 0.26, 2023.8, 0.27],
    'ORE2': [2018.2, 0.62, 2018.9, 0.34, 2022.5, 0.33, 2023.8, 0.13],
    'ORE3': [2018.1, 0.15, 2018.4, 0.06, 2019.5, -0.08, 2022.7, -0.11, 2023.8, -0.24],
    'OREO': [2016.0, 0.38, 2017.6, 0.33, 2019.2, 0.22, 2023.8, 0.22],
    'P140': [2006.6, 0.23, 2023.8, 0.23],
    'P171': [2004.5, 0.78, 2023.8, 0.77],
    'P172': [2008.0, 0.63, 2023.8, 0.62],
    'P174': [2007.0, 0.12, 2023.8, 0.13],
    'P175': [2006.5, 0.40, 2023.8, 0.40],
    'P180': [2006.5, 0.19, 2023.8, 0.19],
    'P210': [2005.0, 0.04, 2023.8, 0.03],
    'P211': [2007.0, 0.53, 2023.8, 0.54],
    'P212': [2006.0, 0.59, 2023.8, 0.59],
    'P213': [2005.0, 0.10, 2023.8, 0.09],
    'P214': [2007.5, 0.28, 2023.8, 0.27],
    'P215': [2007.0, 0.63, 2023.8, 0.60],
    'P216': [2007.0, 0.93, 2023.8, 0.92],
    'P217': [2005.8, 0.30, 2023.8, 0.30],
    'P226': [2006.3, 0.08, 2023.8, 0.08],
    'P227': [2006.3, 0.43, 2023.8, 0.43],
    'P228': [2005.8, -0.02, 2007.9, -0.02, 2008.0, 0.01, 2023.8, 0.02],
    'P229': [2005.0, 0.33, 2023.8, 0.33],
    'P230': [2005.0, 1.02, 2023.6, 1.00, 2023.7, 0.00, 2023.8, 0.00],
    'P231': [2006.5, -0.33, 2023.8, -0.35],
    'P232': [2006.5, 0.36, 2023.8, 0.35],
    'P233': [2006.0, 0.83, 2023.8, 0.82],
    'P234': [2006.3, 0.55, 2023.4, 0.62, 2023.45, -7.30, 2023.55, -7.30, 2023.6, 0.60, 2023.8, 0.60],
    'P235': [2007.5, 0.70, 2023.8, 0.70],
    'P237': [2006.5, 0.55, 2023.8, 0.57],
    'P239': [2008.5, 0.50, 2023.8, 0.50],
    'P240': [2005.0, 0.75, 2021.3, 0.75],
    'P241': [2007.5, 0.23, 2023.8, 0.23],
    'P242': [2005.0, 0.82, 2023.2, 0.72, 2023.3, -2.25, 2023.7, -2.30, 2023.8, 0.70],
    'P243': [2007.5, 0.77, 2023.8, 0.77],
    'P244': [2006.0, 0.70, 2023.8, 0.72],
    'P247': [2006.5, 0.08, 2023.8, 0.09],
    'P248': [2007.5, 0.81, 2023.8, 0.81],
    'P249': [2006.0, 0.72, 2023.8, 0.76],
    'P250': [2007.5, 0.68, 2023.8, 0.70],
    'P252': [2005.8, 0.14, 2023.8, 0.15],
    'P253': [2007.0, 0.05, 2023.8, 0.06],
    'P254': [2007.5, 0.19, 2023.8, 0.20],
    'P255': [2006.3, 0.53, 2023.8, 0.53],
    'P256': [2005.0, -0.68, 2023.8, -0.70],
    'P257': [2006.0, -0.70, 2022.0, -0.70],
    'P258': [2007.5, 0.81, 2023.8, 0.83],
    'P260': [2004.8, -0.015, 2007.8, -0.01],
    'P265': [2005.0, 0.09, 2023.2, 0.01, 2023.3, 1.00, 2023.8, 1.00],
    'P266': [2005.0, 0.47, 2023.8, 0.45],
    'P267': [2005.5, -0.47, 2023.8, -0.53],
    'P268': [2005.0, -0.92, 2023.8, -0.97],
    'P271': [2004.5, -0.18, 2010.0, -0.20, 2015.0, -0.30, 2018.0, -0.38, 2023.8, -0.45],
    'P273': [2005.0, -0.42, 2021.0, -0.47],
    'P274': [2006.0, -0.42, 2021.5, -0.45, 2022.0, -0.50, 2023.8, -0.50],
    'P275': [2006.5, -0.25, 2023.8, -0.30],
    'P276': [2005.8, 0.27, 2023.8, 0.27],
    'P285': [2006.5, 0.74, 2023.8, 0.77],
    'P286': [2007.5, 0.83, 2023.8, 0.84],
    'P287': [2005.0, 0.76, 2023.8, 0.76],
    'P288': [2006.0, 0.72, 2023.8, 0.72],
    'P289': [2007.0, 0.65, 2023.8, 0.65],
    'P290': [2006.3, 0.76, 2023.8, 0.79],
    'P292': [2008.0, 0.61, 2021.0, 0.62],
    'P293': [2006.5, 0.90, 2023.2, 0.92, 2023.3, 7.90, 2023.4, 0.92, 2023.8, 0.92],
    'P294': [2006.5, 0.40, 2023.8, 0.43],
    'P296': [2006.5, 0.32, 2023.8, 0.35],
    'P298': [2005.0, 0.22, 2010.0, 0.23, 2015.0, 0.25, 2020.0, 0.26, 2023.8, 0.27],
    'P299': [2007.3, 0.40, 2021.3, 0.41],
    'P300': [2005.0, 0.28, 2023.8, 0.28],
    'P301': [2005.0, 0.25, 2021.5, 0.25],
    'P302': [2005.0, 0.67, 2023.8, 0.65],
    'P303': [2005.5, -0.72, 2010.0, -0.80, 2013.0, -0.85, 2016.0, -0.95, 2018.0, -1.15, 2021.0, -1.25, 2023.8, -1.35],
    'P304': [2004.3, 0.22, 2008.0, 0.20, 2011.0, 0.15, 2014.0, 0.12, 2016.5, 0.05, 2019.0, 0.00,
             2022.5, -0.05, 2023.3, -0.15, 2023.4, 0.90, 2023.8, 0.90],
    'P305': [2005.5, 0.05, 2023.8, 0.07],
    'P306': [2006.3, 0.52, 2023.8, 0.53],
    'P307': [2005.5, 0.52, 2009.0, 0.45, 2012.0, 0.38, 2015.0, 0.30, 2017.0, 0.20, 2019.0, 0.10, 2021.0, -0.05, 2023.8, -0.25],
    'P309': [2006.0, 0.41, 2023.8, 0.40],
    'P310': [2005.8, 0.35, 2023.8, 0.34],
    'P781': [2008.5, -0.74, 2014.3, -0.74],
    'P787': [2008.5, 0.64, 2023.8, 0.64],
    'P788': [2008.5, 0.65, 2023.8, 0.64],
    'PEA1': [2016.8, 0.68, 2023.8, 0.69],
    'PEA2': [2016.8, 0.46, 2022.5, 0.47, 2022.55, 0.66, 2022.6, 0.47, 2022.9, 0.47, 2022.95, 0.66,
             2023.0, 0.47, 2023.3, 0.47, 2023.35, 0.66, 2023.4, 0.47, 2023.7, 0.47, 2023.75, 0.66, 2023.8, 0.47],
    'PLSB': [2007.5, -0.62, 2010.0, -0.68, 2013.0, -0.75, 2016.0, -0.88, 2020.0, -0.92, 2023.5, -1.05],
    'POTB': [2000.0, 0.53, 2005.0, 0.54],
    'PTRH': [2023.3, 0.32, 2023.8, 0.32],
    'PTRO': [2012.0, 0.05, 2023.3, 0.04],
    'QCY2': [2006.3, 0.45, 2023.8, 0.45],
    'QCYN': [2003.0, 0.58, 2006.3, 0.58],
    'RDGM': [2006.3, 0.23, 2023.8, 0.25],
    'RJAB': [2007.5, 0.76, 2023.8, 0.75],
    'ROPB': [2009.3, 0.18, 2010.8, 0.18, 2010.85, -0.20, 2010.9, 0.23, 2012.8, 0.24],
    'RSVL': [2023.3, 0.35, 2023.8, 0.35],
    'S300': [2000.0, 0.82, 2003.2, 0.80, 2003.25, 1.00, 2003.3, -0.70, 2003.35, 0.80, 2023.8, 0.80],
    'SACL': [2010.3, -0.05, 2011.3, -0.05],
    'SACR': [2008.8, 0.96, 2023.8, 0.95],
    'SAL3': [2010.3, 0.80, 2011.3, 0.79],
    'SAOB': [2000.0, 0.85, 2023.8, 0.84],
    'SARG': [2006.0, 0.15, 2023.8, 0.17],
    'SEI2': [2009.0, -0.38, 2018.8, -0.42],
    'SEIB': [2007.5, -0.16, 2008.8, -0.17],
    'SILV': [2014.5, 0.78, 2023.8, 0.76],
    'SJB5': [2020.0, 0.22, 2020.5, 0.26, 2020.6, 0.22, 2023.8, 0.23],
    'SLN5': [2020.0, -0.63, 2023.0, -0.63, 2023.05, 0.95, 2023.1, -0.63, 2023.5, -0.63, 2023.55, 0.95,
             2023.6, -0.63, 2023.75, -0.63, 2023.8, 0.95],
    'SOD2': [2020.0, 0.80, 2023.3, 0.80],
    'SODB': [2000.0, 0.60, 2020.0, 0.50],
    'SRCK': [2014.5, 0.68, 2015.5, 0.68, 2015.55, 0.85, 2015.6, 0.68, 2023.8, 0.67],
    'STCK': [2010.3, -0.34, 2011.3, -0.34],
    'THAL': [2003.0, -0.50, 2007.5, -0.50],
    'TRAN': [2008.0, 0.20, 2010.0, 0.15, 2011.5, 0.15, 2013.0, 0.00, 2014.5, -0.25, 2015.0, -0.50,
             2016.0, -0.60, 2019.0, -0.65, 2021.5, -0.75, 2023.8, -0.90],
}

# where the legend sits when 'best' would pick a different corner than the original
LEGEND_LOC = {
    'CARK': 'center right', 'CMBB': 'center right', 'CNDR': 'center right',
    'CROW': 'lower left', 'FLNT': 'lower left', 'CALB': 'lower left',
    'MULN': 'upper left', 'P171': 'lower left',
    'P175': 'lower left', 'P180': 'lower left', 'P210': 'lower left',
    'P212': 'lower left', 'P213': 'center right',
    'P215': 'lower left', 'P216': 'lower left', 'P217': 'upper left',
    'P226': 'lower left', 'P227': 'lower left', 'P228': 'lower left', 'P229': 'center left',
    'P230': 'center left', 'P237': 'lower left', 'P241': 'center left',
    'P256': 'center right', 'P257': 'upper left',
    'P267': 'center right', 'P268': 'center left', 'P271': 'upper left',
    'P273': 'lower left', 'P274': 'lower left',
    'P285': 'center left', 'P287': 'lower left', 'P288': 'lower left', 'P289': 'center right',
    'P302': 'lower left', 'P304': 'lower right', 'P309': 'center left',
}

N_ROWS, N_COLS = 21, 8

fig, axes = plt.subplots(N_ROWS, N_COLS, figsize=(30, 45))
fig.subplots_adjust(left=0.026, right=0.995, top=0.9922, bottom=0.013,
                    wspace=0.30, hspace=0.582)

for ax, name in zip(axes.flat, STATIONS):
    for series, label in ((EAST, 'East'), (NORTH, 'North'), (UP, 'Up')):
        pts = np.array(series[name], dtype=float)
        ax.plot(pts[0::2], pts[1::2], label=label, lw=1.8)
    ax.set_title(name)
    ax.set_xlabel('Time')
    ax.set_ylabel('Displacement')
    ax.set_xlim(2000, 2024)
    ax.set_xticks([2000, 2005, 2010, 2015, 2020])
    ax.grid(True)
    ax.legend(loc=LEGEND_LOC.get(name, 'best'))

plt.savefig('out.png', dpi=100)
